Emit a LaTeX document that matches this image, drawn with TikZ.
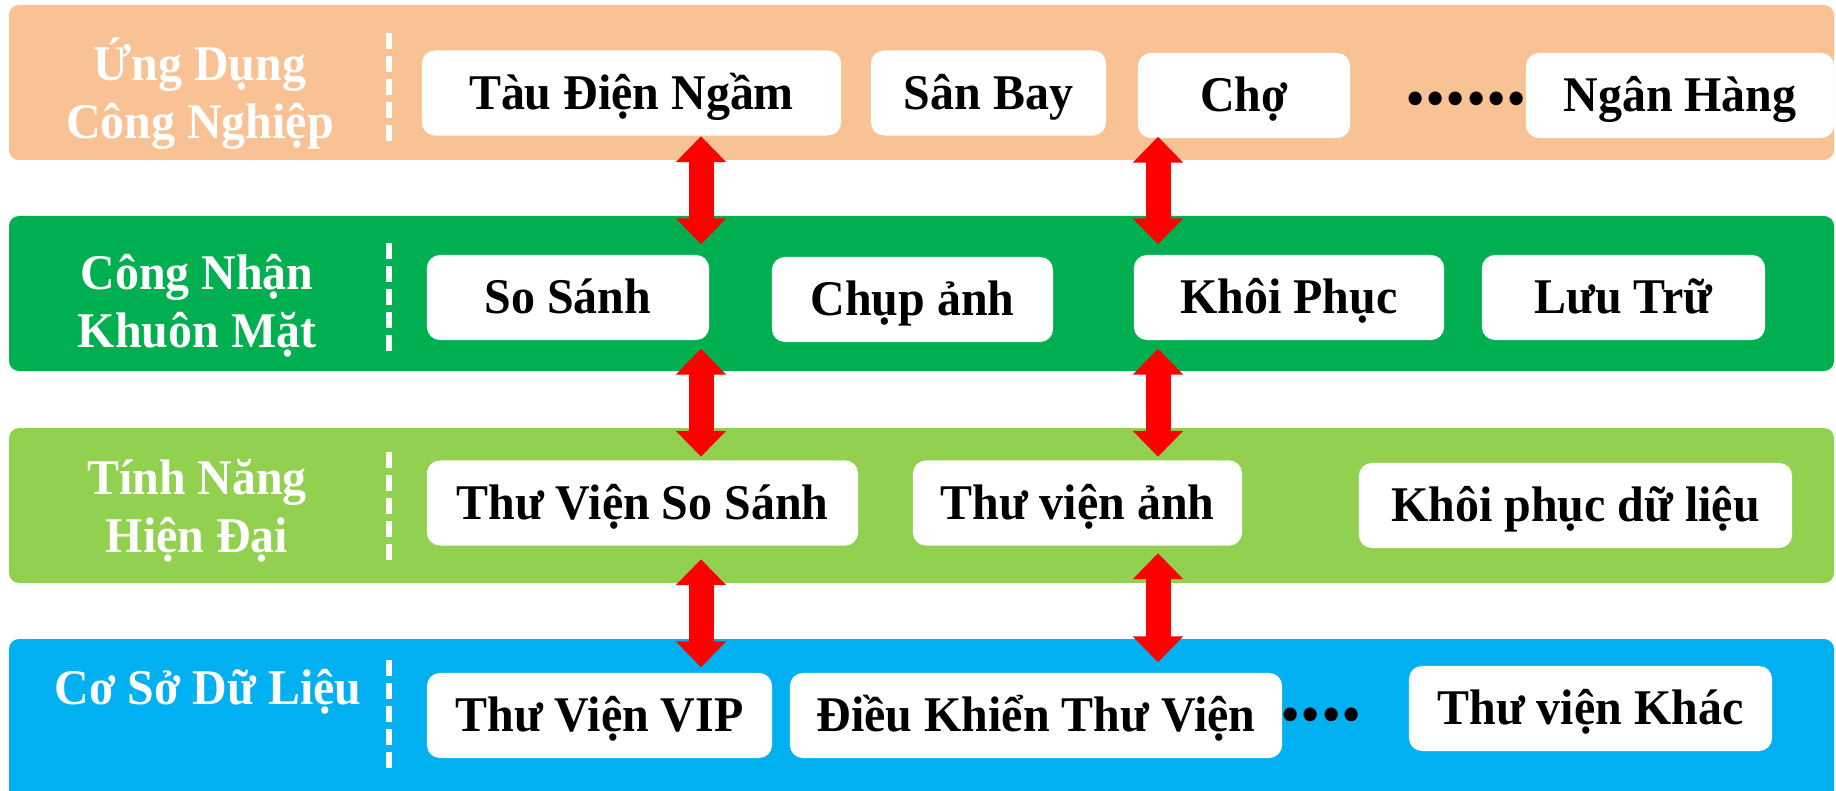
\documentclass[tikz,border=0pt]{standalone}
\usepackage{fontspec}
\setmainfont{Liberation Serif}[FakeStretch=0.96]
\usetikzlibrary{arrows.meta, positioning, calc}

\definecolor{ungdung}{HTML}{F9C295}
\definecolor{congnhan}{HTML}{00B050}
\definecolor{tinhnang}{HTML}{92D050}
\definecolor{cosodl}{HTML}{00B0F0}

\begin{document}
\begin{tikzpicture}[x=0.01cm, y=-0.01cm, >={Triangle[width=0.49cm,length=0.26cm]},
  every node/.style = {font=\fontsize{14.2}{16.5}\selectfont\bfseries},
  band/.style = {rounded corners=0.1cm},
  item/.style = {fill=white, rounded corners=0.13cm, minimum height=0.85cm,
                 text height=9.3pt, text depth=0pt, inner sep=0pt},
  lefttitle/.style = {text=white, align=center},
  sep/.style = {white, line width=0.055cm, dash pattern=on 0.16cm off 0.07cm},
  dots/.style = {anchor=base, font=\fontsize{24}{24}\selectfont\bfseries},
  link/.style = {<->, red, line width=0.25cm}]
  \useasboundingbox (0,0) rectangle (1836,791);

  % bands
  \fill[ungdung, band] (9,5) rectangle (1834,160);
  \fill[congnhan, band] (9,216) rectangle (1834,371);
  \fill[tinhnang, band] (9,428) rectangle (1834,583);
  \fill[cosodl, band] (9,639) rectangle (1834,820);
  \foreach \t/\b in {33/145, 243/353, 452/564, 660/772}
    \draw[sep] (389,\t) -- (389,\b);

  \node[lefttitle] (ungdungtxt) at (200,94) {Ứng Dụng\\Công Nghiệp};
  \node[lefttitle] (congnhantxt) at (197,306) {Công Nhận\\Khuôn Mặt};
  \node[lefttitle] (tinhnangtxt) at (197,511) {Tính Năng\\Hiện Đại};
  \node[lefttitle, anchor=base] (cosodltxt) at (208,704) {Cơ Sở Dữ Liệu};

  % row 1
  \node[item, minimum width=4.19cm] (tau) at (631.5,93) {Tàu Điện Ngầm};
  \node[item, minimum width=2.35cm] (sanbay) at (988.5,93) {Sân Bay};
  \node[item, minimum width=2.12cm] (cho) at (1244,95.5) {Chợ};
  \node[dots] (dots1) at (1466,105) {......};
  \node[item, minimum width=3.08cm] (nganhang) at (1680,95.5) {Ngân Hàng};
  % row 2
  \node[item, minimum width=2.82cm] (sosanh) at (568,297.5) {So Sánh};
  \node[item, minimum width=2.81cm] (chupanh) at (912.5,299.5) {Chụp ảnh};
  \node[item, minimum width=3.10cm] (khoiphuc) at (1289,297.5) {Khôi Phục};
  \node[item, minimum width=2.83cm] (luutru) at (1623.5,297.5) {Lưu Trữ};
  % row 3
  \node[item, minimum width=4.31cm] (tvsosanh) at (642.5,503) {Thư Viện So Sánh};
  \node[item, minimum width=3.29cm] (tvanh) at (1077.5,503) {Thư viện ảnh};
  \node[item, minimum width=4.33cm] (khoiphucdl) at (1575.5,505.5) {Khôi phục dữ liệu};
  % row 4
  \node[item, minimum width=3.45cm] (tvvip) at (599.5,715.5) {Thư Viện VIP};
  \node[item, minimum width=4.92cm] (dieukhien) at (1036,715.5) {Điều Khiển Thư Viện};
  \node[dots] (dots2) at (1321,720) {....};
  \node[item, minimum width=3.63cm] (tvkhac) at (1590.5,708.5) {Thư viện Khác};

  % links
  \coordinate (colA) at (701,0);
  \coordinate (colB) at (1158,0);
  \draw[link] (tau.south -| colA) -- ($(sosanh.north -| colA)+(0,-10)$);
  \draw[link] ($(sosanh.south -| colA)+(0,8)$) -- ($(tvsosanh.north -| colA)+(0,-3)$);
  \draw[link] ($(tvsosanh.south -| colA)+(0,13)$) -- ($(tvvip.north -| colA)+(0,-5)$);
  \draw[link] ($(cho.south -| colB)+(0,-2)$) -- ($(khoiphuc.north -| colB)+(0,-10)$);
  \draw[link] ($(khoiphuc.south -| colB)+(0,8)$) -- ($(tvanh.north -| colB)+(0,-3)$);
  \draw[link] ($(tvanh.south -| colB)+(0,7)$) -- ($(dieukhien.north -| colB)+(0,-10)$);
\end{tikzpicture}
\end{document}
